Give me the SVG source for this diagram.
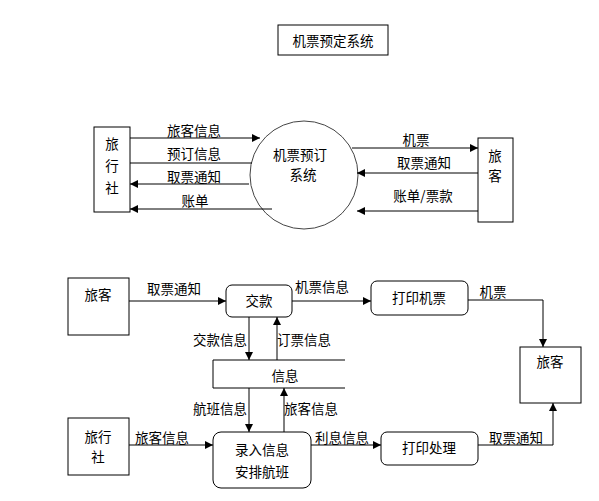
<svg xmlns="http://www.w3.org/2000/svg" width="599" height="501" viewBox="0 0 599 501">
<style>
text{font-family:"Noto Sans CJK SC","Liberation Sans",sans-serif;font-size:13.5px;fill:#000}
.c{text-anchor:middle}
.box{fill:#fff;stroke:#000;stroke-width:1}
.rbox{fill:#fff;stroke:#000;stroke-width:1}
.ln{fill:none;stroke:#000;stroke-width:1}
</style>
<defs>
<marker id="a" viewBox="0 0 10 10" refX="10" refY="5" markerWidth="9" markerHeight="8" markerUnits="userSpaceOnUse" orient="auto"><path d="M0,0L10,5L0,10z" fill="#000"/></marker>
</defs>
<rect width="599" height="501" fill="#fff"/>
<g id="title"><rect class="box" x="278" y="25" width="110" height="30"/><text class="c" x="333" y="46">机票预定系统</text></g>

<g id="agency1"><rect class="box" x="94" y="127" width="36" height="85"/><text class="c" x="112" y="149">旅</text><text class="c" x="112" y="171">行</text><text class="c" x="112" y="193">社</text></g>
<g id="system"><circle cx="304" cy="175" r="54" fill="#fff" stroke="#444"/><text class="c" x="300" y="160">机票预订</text><text class="c" x="303" y="180">系统</text></g>
<g id="traveler1"><rect class="box" x="478" y="138" width="35" height="84"/><text class="c" x="495" y="161">旅</text><text class="c" x="495" y="181">客</text></g>

<g id="traveler2"><rect class="box" x="68" y="278" width="61" height="57"/><text class="c" x="98" y="300">旅客</text></g>
<g id="pay"><rect class="rbox" x="226" y="285" width="66" height="32" rx="6"/><text class="c" x="259" y="306">交款</text></g>
<g id="print-ticket"><rect class="rbox" x="371" y="281" width="97" height="34" rx="6"/><text class="c" x="419" y="303">打印机票</text></g>
<g id="traveler3"><rect class="box" x="520" y="347" width="61" height="56"/><text class="c" x="550" y="367">旅客</text></g>
<g id="store"><path class="ln" d="M345,360H213V388H345"/><text class="c" x="285" y="381">信息</text></g>
<g id="agency2"><rect class="box" x="68" y="418" width="61" height="57"/><text class="c" x="98" y="442">旅行</text><text class="c" x="98" y="462">社</text></g>
<g id="entry"><rect class="rbox" x="213" y="432" width="98" height="56" rx="8"/><text class="c" x="262" y="455">录入信息</text><text class="c" x="262" y="477">安排航班</text></g>
<g id="print-proc"><rect class="rbox" x="381" y="432" width="97" height="33" rx="6"/><text class="c" x="429" y="453">打印处理</text></g>

<g id="connectors">
<path class="ln" d="M130,138H260" marker-end="url(#a)"/>
<path class="ln" d="M252,163H130"/>
<path class="ln" d="M249,184H130" marker-end="url(#a)"/>
<path class="ln" d="M272,209H130" marker-end="url(#a)"/>
<path class="ln" d="M352,148H478" marker-end="url(#a)"/>
<path class="ln" d="M478,173H357" marker-end="url(#a)"/>
<path class="ln" d="M478,211H357" marker-end="url(#a)"/>
<path class="ln" d="M129,301H226" marker-end="url(#a)"/>
<path class="ln" d="M292,301H371" marker-end="url(#a)"/>
<path class="ln" d="M468,300H543V347" marker-end="url(#a)"/>
<path class="ln" d="M249,317V360" marker-end="url(#a)"/>
<path class="ln" d="M277,360V317" marker-end="url(#a)"/>
<path class="ln" d="M249,388V432" marker-end="url(#a)"/>
<path class="ln" d="M284,432V388" marker-end="url(#a)"/>
<path class="ln" d="M129,445H213" marker-end="url(#a)"/>
<path class="ln" d="M311,445H381" marker-end="url(#a)"/>
<path class="ln" d="M478,445H553V403" marker-end="url(#a)"/>
</g>
<g id="labels">
<text class="c" x="194" y="136">旅客信息</text>
<text class="c" x="194" y="159">预订信息</text>
<text class="c" x="194" y="182">取票通知</text>
<text class="c" x="195" y="206">账单</text>
<text class="c" x="416" y="145">机票</text>
<text class="c" x="424" y="168">取票通知</text>
<text class="c" x="423" y="201">账单/票款</text>
<text class="c" x="174" y="294">取票通知</text>
<text class="c" x="322" y="292">机票信息</text>
<text class="c" x="493" y="297">机票</text>
<text class="c" x="220" y="345">交款信息</text>
<text class="c" x="304" y="345">订票信息</text>
<text class="c" x="220" y="414">航班信息</text>
<text class="c" x="311" y="414">旅客信息</text>
<text class="c" x="162" y="443">旅客信息</text>
<text class="c" x="342" y="443">利息信息</text>
<text class="c" x="516" y="443">取票通知</text>
</g>
</svg>
